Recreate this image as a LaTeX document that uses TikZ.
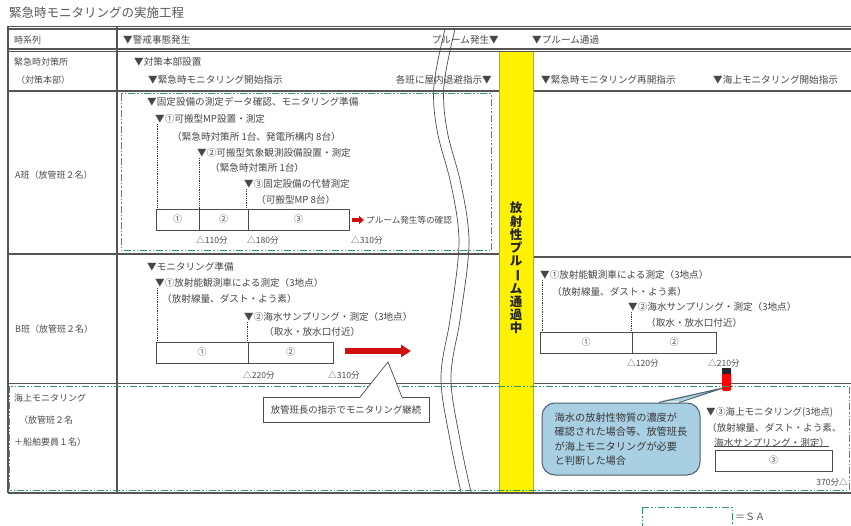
\documentclass[tikz,border=0pt]{standalone}
\usepackage{fontspec}
\newfontfamily\jp{Noto Sans CJK JP}
\usetikzlibrary{arrows.meta,calc}
\definecolor{sagreen}{HTML}{2E9A6A}
\definecolor{tgray}{HTML}{555555}
\definecolor{cblue}{HTML}{A9D0E2}
\definecolor{cborder}{HTML}{4A6070}
\definecolor{arrred}{HTML}{D01010}
\begin{document}
\begin{tikzpicture}[x=1pt,y=-1pt,
  txt/.style={anchor=west,inner sep=0pt,font=\jp\fontsize{9.6}{11}\selectfont,text=black!72},
  small/.style={anchor=west,inner sep=0pt,font=\jp\fontsize{8.6}{10}\selectfont,text=black!70},
  lcol/.style={anchor=west,inner sep=0pt,font=\jp\fontsize{9}{11}\selectfont,text=black!70},
  tl/.style={draw=tgray,line width=1.1pt},
  sabox/.style={draw=sagreen,line width=1pt,dash pattern=on 7pt off 2pt on 1.5pt off 2pt on 1.5pt off 2pt},
  cellb/.style={draw=black!70,line width=0.7pt,inner sep=0pt,font=\jp\fontsize{9}{10}\selectfont,text=black!70},
  dotv/.style={draw=black!80,line width=0.8pt,densely dotted},
  wave/.style={draw=black!70,line width=0.7pt},
  redarr/.style={draw=arrred,line width=3.5pt,-{Triangle[length=5pt,width=8pt]}},
  bigarr/.style={draw=arrred,line width=5.5pt,-{Triangle[length=10pt,width=12pt]}},
  callb/.style={draw=black!70,line width=0.7pt,fill=white,inner sep=0pt,font=\jp\fontsize{9.4}{11}\selectfont,text=black!75},
  callc/.style={draw=cborder,line width=1pt,fill=cblue,rounded corners=13pt,inner sep=0pt,align=left,font=\jp\fontsize{10.2}{14.5}\selectfont,text=black!78}
]
\useasboundingbox (0,0) rectangle (851,526);
\fill[white] (0,0) rectangle (851,526);

% title
\node[anchor=west,inner sep=0pt,font=\jp\fontsize{12.5}{14}\selectfont,text=black!65] (title) at (9,13) {緊急時モニタリングの実施工程};

% table lines
\draw[tl] (8,26.5) -- (851,26.5);
\draw[tl] (8,29) -- (851,29);
\draw[tl] (8,49) -- (851,49);
\draw[tl] (8,51.5) -- (851,51.5);
\draw[tl] (8,91) -- (851,91);
\draw[tl] (8,254) -- (499,254);
\draw[tl] (533,257) -- (851,257);
\draw[tl] (8,383.5) -- (851,383.5);
\draw[tl] (8,493) -- (851,493);
\draw[tl] (8,26.5) -- (8,493);
\draw[tl] (117,26.5) -- (117,493);

% yellow band
\fill[yellow] (499,52) rectangle (533,492);
\draw[draw=olive!70,line width=0.6pt] (499,52) -- (499,492) (533,52) -- (533,492);
\node[inner sep=0pt,align=center,font=\jp\bfseries\fontsize{12.5}{13.2}\selectfont,text=black!85] (plume) at (516,268)
  {放\\射\\性\\プ\\ル\\\rotatebox[origin=c]{-90}{ー}\\ム\\通\\過\\中};

% wavy break lines
\draw[wave] plot[smooth,tension=0.6] coordinates {(445,29) (434,85) (437,130) (450,180) (458,225) (458,260) (450,320) (441,378) (450,440) (461,492)};
\draw[wave] plot[smooth,tension=0.6] coordinates {(455,29) (444,85) (447,130) (460,180) (468,225) (468,260) (460,320) (451,378) (460,440) (471,492)};

% header row
\node[lcol] (h0) at (14,40) {時系列};
\node[txt] (h1) at (123,40) {▼警戒事態発生};
\node[txt,anchor=east] (h2) at (499,40) {プルーム発生▼};
\node[txt] (h3) at (532,40) {▼プルーム通過};

% row 2
\node[lcol] (r2a) at (14,62) {緊急時対策所};
\node[lcol] (r2b) at (16,80) {（対策本部）};
\node[txt] (r2c) at (134,62) {▼対策本部設置};
\node[txt] (r2d) at (148,80) {▼緊急時モニタリング開始指示};
\node[txt,anchor=east] (r2e) at (492,80) {各班に屋内退避指示▼};
\node[txt] (r2f) at (541,80) {▼緊急時モニタリング再開指示};
\node[txt] (r2g) at (713,80) {▼海上モニタリング開始指示};

% A team
\node[lcol] (la) at (15,175) {A班（放管班２名）};
\draw[sabox] (121,94) rectangle (491,251);
\node[txt] (a0) at (147,102) {▼固定設備の測定データ確認、モニタリング準備};
\node[txt] (a1t) at (155,119) {▼①可搬型MP設置・測定};
\node[txt] (a1s) at (172,137) {（緊急時対策所 1台、発電所構内 8台）};
\node[txt] (a2t) at (197,153) {▼②可搬型気象観測設備設置・測定};
\node[txt] (a2s) at (210,168) {（緊急時対策所 1台）};
\node[txt] (a3t) at (244,184) {▼③固定設備の代替測定};
\node[txt] (a3s) at (256,200) {（可搬型MP 8台）};
\node[cellb,minimum width=43pt,minimum height=21pt] (a1) at (177.5,219.5) {①};
\node[cellb,minimum width=49pt,minimum height=21pt] (a2) at (223.5,219.5) {②};
\node[cellb,minimum width=101pt,minimum height=21pt] (a3) at (298.5,219.5) {③};
\coordinate (a1d) at (157,124);
\coordinate (a2d) at (199,158);
\coordinate (a3d) at (246.5,189);
\draw[dotv] (a1d) -- (a1d |- a1.north);
\draw[dotv] (a2d) -- (a2d |- a1.north);
\draw[dotv] (a3d) -- (a3d |- a1.north);
\node[small] (at1) at (196,240) {△110分};
\node[small] (at2) at (247,240) {△180分};
\node[small] (at3) at (351,240) {△310分};
\coordinate (ra0) at (352,220);
\coordinate (ra1) at (364,220);
\draw[redarr] (ra0) -- (ra1);
\node[small] (aconf) at (366,220) {プルーム発生等の確認};

% B team
\node[lcol] (lb) at (15,329) {B班（放管班２名）};
\node[txt] (b0) at (147,267) {▼モニタリング準備};
\node[txt] (b1t) at (155,283) {▼①放射能観測車による測定（3地点）};
\node[txt] (b1s) at (162,299) {（放射線量、ダスト・よう素）};
\node[txt] (b2t) at (244,317) {▼②海水サンプリング・測定（3地点）};
\node[txt] (b2s) at (264,332) {（取水・放水口付近）};
\node[cellb,minimum width=92pt,minimum height=21pt] (b1) at (202,352.5) {①};
\node[cellb,minimum width=85pt,minimum height=21pt] (b2) at (290.5,352.5) {②};
\coordinate (b1d) at (157,288);
\coordinate (b2d) at (247.5,322);
\draw[dotv] (b1d) -- (b1d |- b1.north);
\draw[dotv] (b2d) -- (b2d |- b1.north);
\node[small] (bt1) at (243,375) {△220分};
\node[small] (bt2) at (328,375) {△310分};
\coordinate (ba0) at (345,351);
\coordinate (ba1) at (411,351);
\draw[bigarr] (ba0) -- (ba1);

% B right side
\node[txt] (c1t) at (540,275) {▼①放射能観測車による測定（3地点）};
\node[txt] (c1s) at (552,292) {（放射線量、ダスト・よう素）};
\node[txt] (c2t) at (628,307) {▼②海水サンプリング・測定（3地点）};
\node[txt] (c2s) at (646,323) {（取水・放水口付近）};
\node[cellb,minimum width=92pt,minimum height=21pt] (c1) at (586,342.5) {①};
\node[cellb,minimum width=84pt,minimum height=21pt] (c2) at (674,342.5) {②};
\coordinate (c1d) at (542,280);
\coordinate (c2d) at (631,312);
\draw[dotv] (c1d) -- (c1d |- c1.north);
\draw[dotv] (c2d) -- (c2d |- c1.north);
\node[small] (ct1) at (627,363) {△120分};
\node[small] (ct2) at (708,363) {△210分};
\fill[red,rounded corners=2pt] (722,368) rectangle (731,391);
\fill[black!85] (722,368) rectangle (731,374);

% sea monitoring row
\draw[sabox] (9,386) rectangle (849,490);
\node[lcol] (ls1) at (14,398) {海上モニタリング};
\node[lcol] (ls2) at (19,420) {（放管班２名};
\node[lcol] (ls3) at (14,442) {＋船舶要員１名）};

% callout B
\node[callb,minimum width=166pt,minimum height=25pt] (cb) at (346,410) {放管班長の指示でモニタリング継続};
\coordinate (cbtip) at (388,362);
\fill[white] ([xshift=14pt,yshift=-0.6pt]cb.north) -- (cbtip) -- ([xshift=56pt,yshift=-0.6pt]cb.north) -- cycle;
\draw[draw=black!70,line width=0.7pt] ([xshift=14pt]cb.north) -- (cbtip) -- ([xshift=56pt]cb.north);

% callout C (blue)
\node[callc,minimum width=158pt,minimum height=72pt] (cc) at (621,439)
  {海水の放射性物質の濃度が\\確認された場合等、放管班長\\が海上モニタリングが必要\\と判断した場合};
\coordinate (cctip) at (723,388);
\fill[cblue] ([xshift=38pt,yshift=1.2pt]cc.north) -- (cctip) -- ([xshift=58pt,yshift=1.2pt]cc.north) -- cycle;
\draw[draw=cborder,line width=1pt] ([xshift=38pt]cc.north) -- (cctip) -- ([xshift=58pt]cc.north);

\node[txt] (s3t) at (706,412) {▼③海上モニタリング(3地点)};
\node[txt] (s3a) at (707,428) {（放射線量、ダスト・よう素、};
\node[txt] (s3b) at (714,443) {海水サンプリング・測定）};
\draw[draw=black!70,line width=0.6pt] ([yshift=1.5pt]s3b.south west) -- ([yshift=1.5pt]s3b.south east);
\node[cellb,minimum width=117pt,minimum height=21pt] (s3) at (773.5,460.5) {③};
\node[small,anchor=east] (st) at (848,482) {370分△};

% legend
\draw[sabox] (642,507) -- (732,507) -- (732,530) (642,507) -- (642,530);
\node[anchor=west,inner sep=0pt,font=\jp\fontsize{10}{12}\selectfont,text=black!65] (leg) at (735,517) {＝ＳＡ};
\end{tikzpicture}
\end{document}
